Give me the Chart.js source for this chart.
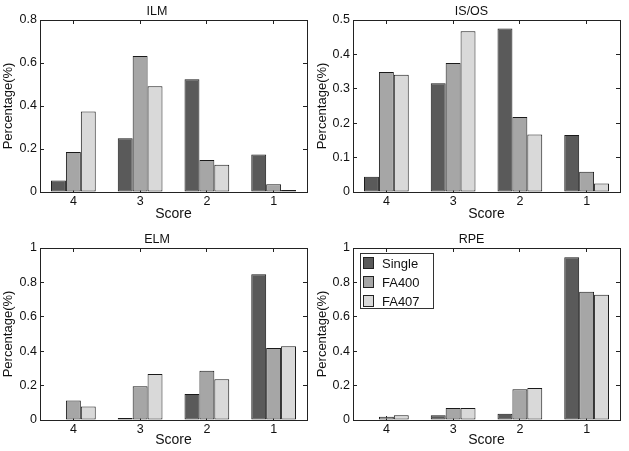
<!DOCTYPE html>
<html>
<head>
<meta charset="utf-8">
<script src="https://cdn.jsdelivr.net/npm/chart.js@4.4.1/dist/chart.umd.min.js"></script>
<style>
body { margin: 0; background: #fff; }
.panel { position: absolute; }
</style>
</head>
<body>
<div class="panel" style="left:0;top:0"><canvas id="ilm" width="314" height="225"></canvas></div>
<div class="panel" style="left:314px;top:0"><canvas id="isos" width="315" height="225"></canvas></div>
<div class="panel" style="left:0;top:225px"><canvas id="elm" width="314" height="226"></canvas></div>
<div class="panel" style="left:314px;top:225px"><canvas id="rpe" width="315" height="226"></canvas></div>
<script>
// data
var scoreLabels = ['4', '3', '2', '1'];
var seriesNames = ['Single', 'FA400', 'FA407'];

var ilmSingle = [0.053, 0.250, 0.525, 0.175];
var ilmFA400 = [0.186, 0.633, 0.149, 0.036];
var ilmFA407 = [0.374, 0.492, 0.127, 0.009];

var isosSingle = [0.044, 0.316, 0.475, 0.166];
var isosFA400 = [0.349, 0.375, 0.218, 0.059];
var isosFA407 = [0.341, 0.467, 0.167, 0.025];

var elmSingle = [0, 0.012, 0.151, 0.847];
var elmFA400 = [0.113, 0.196, 0.287, 0.419];
var elmFA407 = [0.078, 0.268, 0.237, 0.429];

var rpeSingle = [0, 0.027, 0.037, 0.946];
var rpeFA400 = [0.019, 0.070, 0.179, 0.746];
var rpeFA407 = [0.027, 0.070, 0.186, 0.728];

var seriesColors = ['#5a5a5a', '#a6a6a6', '#d9d9d9'];

Chart.defaults.font.family = "'Liberation Sans', Arial, sans-serif";
Chart.defaults.color = '#111';

// matlab style legend inside the axes
var legendBox = {
	id: 'legendBox',
	afterDraw: function(chart, args, opts) {
		if (!opts.display) return;
		var ctx = chart.ctx, a = chart.chartArea;
		var x = a.left + 7, y = a.top + 5;
		ctx.save();
		ctx.fillStyle = '#fff';
		ctx.fillRect(x, y, 73, 55);
		ctx.strokeStyle = '#333';
		ctx.lineWidth = 1;
		ctx.strokeRect(x + 0.5, y + 0.5, 73, 55);
		ctx.font = "13px 'Liberation Sans', Arial, sans-serif";
		ctx.textBaseline = 'middle';
		chart.data.datasets.forEach(function(ds, i) {
			var cy = y + 10 + i * 19;
			ctx.fillStyle = ds.backgroundColor;
			ctx.fillRect(x + 3, cy - 5, 10, 11);
			ctx.strokeStyle = '#222';
			ctx.strokeRect(x + 3.5, cy - 5.5, 10, 11);
			ctx.fillStyle = '#111';
			ctx.fillText(ds.label, x + 22, cy + 1);
		});
		ctx.restore();
	}
};

function fixSize(prop, size) {
	return function(scale) { scale[prop] = size; };
}

function makeChart(id, title, single, fa400, fa407, yMax, yStep, area, showLegend) {
	var canvas = document.getElementById(id);
	var W = canvas.width, H = canvas.height;
	var values = [single, fa400, fa407];
	var datasets = [];
	for (var i = 0; i < 3; i++) {
		datasets.push({
			label: seriesNames[i],
			data: values[i],
			backgroundColor: seriesColors[i],
			borderColor: '#1a1a1a',
			borderWidth: 1,
			borderSkipped: false,
			categoryPercentage: 0.67,
			barPercentage: 1
		});
	}
	var gridOpts = { offset: false, drawOnChartArea: false, tickLength: -4, color: '#222' };
	var borderOpts = { color: '#222', width: 1 };
	new Chart(canvas.getContext('2d'), {
		type: 'bar',
		data: { labels: scoreLabels, datasets: datasets },
		plugins: [legendBox],
		options: {
			responsive: false,
			animation: false,
			layout: { padding: 0 },
			plugins: {
				legend: { display: false },
				tooltip: { enabled: false },
				legendBox: { display: showLegend },
				title: {
					display: true,
					text: title,
					color: '#111',
					font: { size: 12.5, weight: 'normal' },
					padding: { top: area.titleTop, bottom: area.top - area.titleTop - 15 }
				}
			},
			scales: {
				x: {
					type: 'category', position: 'bottom', offset: true,
					grid: gridOpts, border: borderOpts,
					ticks: { padding: 6, maxRotation: 0, font: { size: 12.5 } },
					title: { display: true, text: 'Score', font: { size: 14 }, padding: { top: 0, bottom: area.scoreGap } },
					afterFit: fixSize('height', H - area.bottom)
				},
				x2: {
					type: 'category', position: 'top', offset: true,
					grid: gridOpts, border: borderOpts,
					ticks: { display: false },
					afterFit: fixSize('height', 0)
				},
				y: {
					position: 'left', min: 0, max: yMax,
					grid: gridOpts, border: borderOpts,
					ticks: {
						stepSize: yStep, padding: 7, font: { size: 12.5 },
						callback: function(v) { return String(+v.toFixed(1)); }
					},
					title: { display: true, text: 'Percentage(%)', font: { size: 13 }, padding: { top: 1, bottom: 0 } },
					afterFit: fixSize('width', area.left)
				},
				y2: {
					position: 'right', min: 0, max: yMax,
					grid: gridOpts, border: borderOpts,
					ticks: { display: false, stepSize: yStep },
					afterFit: fixSize('width', W - area.right)
				}
			}
		}
	});
}

makeChart('ilm', 'ILM', ilmSingle, ilmFA400, ilmFA407, 0.8, 0.2,
	{ left: 40, right: 307, top: 20, bottom: 192, titleTop: 4, scoreGap: 2.8 }, false);
makeChart('isos', 'IS/OS', isosSingle, isosFA400, isosFA407, 0.5, 0.1,
	{ left: 39, right: 306, top: 20, bottom: 192, titleTop: 4, scoreGap: 2.8 }, false);
makeChart('elm', 'ELM', elmSingle, elmFA400, elmFA407, 1, 0.2,
	{ left: 40, right: 307, top: 23, bottom: 195, titleTop: 7, scoreGap: 2.2 }, false);
makeChart('rpe', 'RPE', rpeSingle, rpeFA400, rpeFA407, 1, 0.2,
	{ left: 39, right: 306, top: 23, bottom: 195, titleTop: 7, scoreGap: 2.2 }, true);
</script>
</body>
</html>
